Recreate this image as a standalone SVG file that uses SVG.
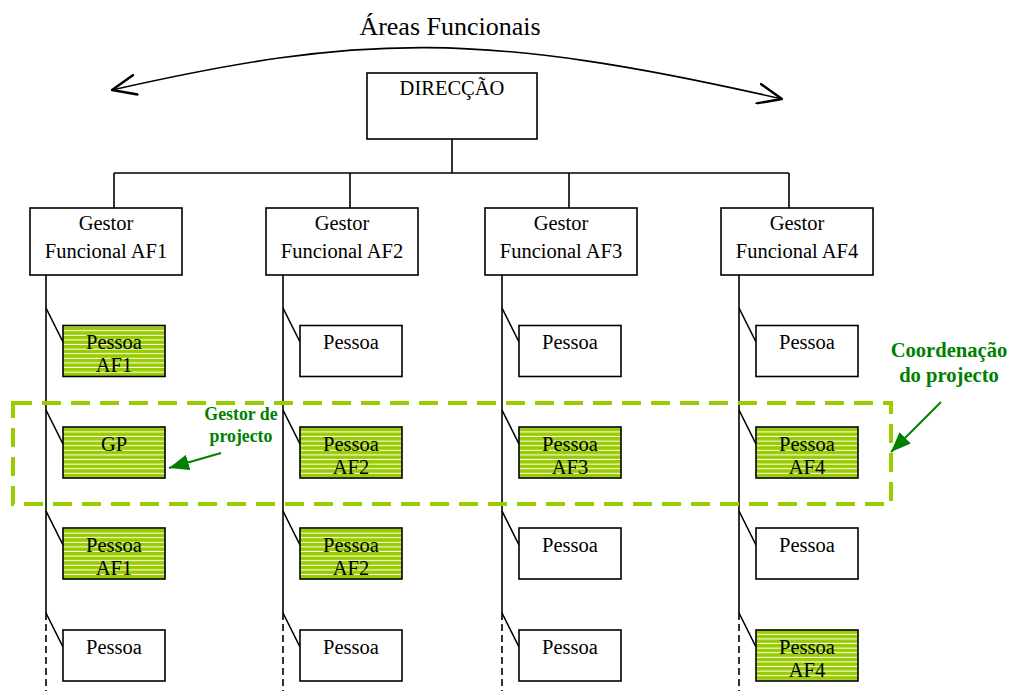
<svg xmlns="http://www.w3.org/2000/svg" width="1012" height="691" viewBox="0 0 1012 691">
  <style>
    .box { fill: #fff; stroke: #000; stroke-width: 1.6; }
    .hatched { fill: url(#hatch); stroke: #000; stroke-width: 1.6; }
    .t { font-family: "Liberation Serif", "Times New Roman", serif; font-size: 20.5px; fill: #000; text-anchor: middle; }
    .note { font-family: "Liberation Serif", "Times New Roman", serif; font-weight: bold; fill: #008000; text-anchor: middle; }
    .ln { stroke: #000; stroke-width: 1.6; fill: none; }
    .dash { stroke: #000; stroke-width: 1.6; stroke-dasharray: 7 4; fill: none; }
    .green-arrow { stroke: #008000; stroke-width: 2; fill: none; }
  </style>
  <defs>
    <pattern id="hatch" width="8" height="4.6" patternUnits="userSpaceOnUse">
      <rect width="8" height="4.6" fill="#99cc00"/>
      <rect y="3.6" width="8" height="1" fill="#fff"/>
    </pattern>
    <marker id="openV" viewBox="0 0 26 22" refX="25" refY="11" markerWidth="26" markerHeight="22" markerUnits="userSpaceOnUse" orient="auto-start-reverse">
      <path d="M1,1 L25,11 L1,21" fill="none" stroke="#000" stroke-width="2.4" stroke-linecap="round" stroke-linejoin="round"/>
    </marker>
    <marker id="greenHead" viewBox="0 0 20 16" refX="20" refY="8" markerWidth="20" markerHeight="16" markerUnits="userSpaceOnUse" orient="auto">
      <path d="M0,0 L20,8 L0,16 z" fill="#008000"/>
    </marker>
  </defs>

  <rect width="1012" height="691" fill="#fff"/>

  <!-- functional areas span arrow -->
  <g id="areas">
    <path d="M112,90 C360,34 480,30 782,99" class="ln" stroke-width="2.4" marker-start="url(#openV)" marker-end="url(#openV)"/>
    <text x="450" y="35" class="t" style="font-size:26px">Áreas Funcionais</text>
  </g>

  <!-- connectors -->
  <g id="connectors">
    <!-- direction to functional managers -->
    <path d="M452,139 V173 M114,173 H789 M114,173 V208 M350,173 V208 M569,173 V208 M789,173 V208" class="ln"/>
    <!-- staff lines per functional area -->
    <path d="M46,275 V613 M283,275 V613 M502,275 V613 M739,275 V613" class="ln"/>
    <path d="M46,613 V691 M283,613 V691 M502,613 V691 M739,613 V691" class="dash"/>
    <!-- branches to each person -->
    <path d="M46,308 L63,342 M46,410 L63,444 M46,511 L63,545 M46,613 L63,647" class="ln"/>
    <path d="M283,308 L300,342 M283,410 L300,444 M283,511 L300,545 M283,613 L300,647" class="ln"/>
    <path d="M502,308 L519,342 M502,410 L519,444 M502,511 L519,545 M502,613 L519,647" class="ln"/>
    <path d="M739,308 L756,342 M739,410 L756,444 M739,511 L756,545 M739,613 L756,647" class="ln"/>
  </g>

  <!-- project coordination frame -->
  <rect id="coordination-frame" x="13" y="403" width="878" height="101" fill="none" stroke="#99cc00" stroke-width="4" stroke-dasharray="19 10"/>

  <g id="direccao">
    <rect x="367" y="73" width="170" height="66" class="box"/>
    <text x="452" y="95" class="t">DIRECÇÃO</text>
  </g>

  <g id="gestor-af1">
    <rect x="30" y="208" width="152" height="67" class="box"/>
    <text x="106" y="230" class="t">Gestor</text>
    <text x="106" y="258" class="t">Funcional AF1</text>
  </g>
  <g id="gestor-af2">
    <rect x="266" y="208" width="152" height="67" class="box"/>
    <text x="342" y="230" class="t">Gestor</text>
    <text x="342" y="258" class="t">Funcional AF2</text>
  </g>
  <g id="gestor-af3">
    <rect x="485" y="208" width="152" height="67" class="box"/>
    <text x="561" y="230" class="t">Gestor</text>
    <text x="561" y="258" class="t">Funcional AF3</text>
  </g>
  <g id="gestor-af4">
    <rect x="721" y="208" width="152" height="67" class="box"/>
    <text x="797" y="230" class="t">Gestor</text>
    <text x="797" y="258" class="t">Funcional AF4</text>
  </g>

  <!-- area 1 staff -->
  <g id="af1-p1">
    <rect x="63" y="325.5" width="102" height="51" class="hatched"/>
    <text x="114" y="349" class="t">Pessoa</text>
    <text x="114" y="372" class="t">AF1</text>
  </g>
  <g id="af1-gp">
    <rect x="63" y="427" width="102" height="51" class="hatched"/>
    <text x="114" y="451" class="t">GP</text>
  </g>
  <g id="af1-p3">
    <rect x="63" y="528" width="102" height="51" class="hatched"/>
    <text x="114" y="552" class="t">Pessoa</text>
    <text x="114" y="575" class="t">AF1</text>
  </g>
  <g id="af1-p4">
    <rect x="63" y="630" width="102" height="51" class="box"/>
    <text x="114" y="654" class="t">Pessoa</text>
  </g>

  <!-- area 2 staff -->
  <g id="af2-p1">
    <rect x="300" y="325.5" width="102" height="51" class="box"/>
    <text x="351" y="349" class="t">Pessoa</text>
  </g>
  <g id="af2-p2">
    <rect x="300" y="427" width="102" height="51" class="hatched"/>
    <text x="351" y="451" class="t">Pessoa</text>
    <text x="351" y="474" class="t">AF2</text>
  </g>
  <g id="af2-p3">
    <rect x="300" y="528" width="102" height="51" class="hatched"/>
    <text x="351" y="552" class="t">Pessoa</text>
    <text x="351" y="575" class="t">AF2</text>
  </g>
  <g id="af2-p4">
    <rect x="300" y="630" width="102" height="51" class="box"/>
    <text x="351" y="654" class="t">Pessoa</text>
  </g>

  <!-- area 3 staff -->
  <g id="af3-p1">
    <rect x="519" y="325.5" width="102" height="51" class="box"/>
    <text x="570" y="349" class="t">Pessoa</text>
  </g>
  <g id="af3-p2">
    <rect x="519" y="427" width="102" height="51" class="hatched"/>
    <text x="570" y="451" class="t">Pessoa</text>
    <text x="570" y="474" class="t">AF3</text>
  </g>
  <g id="af3-p3">
    <rect x="519" y="528" width="102" height="51" class="box"/>
    <text x="570" y="552" class="t">Pessoa</text>
  </g>
  <g id="af3-p4">
    <rect x="519" y="630" width="102" height="51" class="box"/>
    <text x="570" y="654" class="t">Pessoa</text>
  </g>

  <!-- area 4 staff -->
  <g id="af4-p1">
    <rect x="756" y="325.5" width="102" height="51" class="box"/>
    <text x="807" y="349" class="t">Pessoa</text>
  </g>
  <g id="af4-p2">
    <rect x="756" y="427" width="102" height="51" class="hatched"/>
    <text x="807" y="451" class="t">Pessoa</text>
    <text x="807" y="474" class="t">AF4</text>
  </g>
  <g id="af4-p3">
    <rect x="756" y="528" width="102" height="51" class="box"/>
    <text x="807" y="552" class="t">Pessoa</text>
  </g>
  <g id="af4-p4">
    <rect x="756" y="630" width="102" height="51" class="hatched"/>
    <text x="807" y="654" class="t">Pessoa</text>
    <text x="807" y="677" class="t">AF4</text>
  </g>

  <!-- annotations -->
  <g id="note-gestor-projecto">
    <text x="241" y="420" class="note" style="font-size:17.8px">Gestor de</text>
    <text x="241" y="442" class="note" style="font-size:17.8px">projecto</text>
    <line x1="221" y1="453" x2="169" y2="468" class="green-arrow" marker-end="url(#greenHead)"/>
  </g>
  <g id="note-coordenacao">
    <text x="949" y="357" class="note" style="font-size:20.6px">Coordenação</text>
    <text x="949" y="382" class="note" style="font-size:20.6px">do projecto</text>
    <line x1="941" y1="402" x2="891" y2="452" class="green-arrow" marker-end="url(#greenHead)"/>
  </g>
</svg>
